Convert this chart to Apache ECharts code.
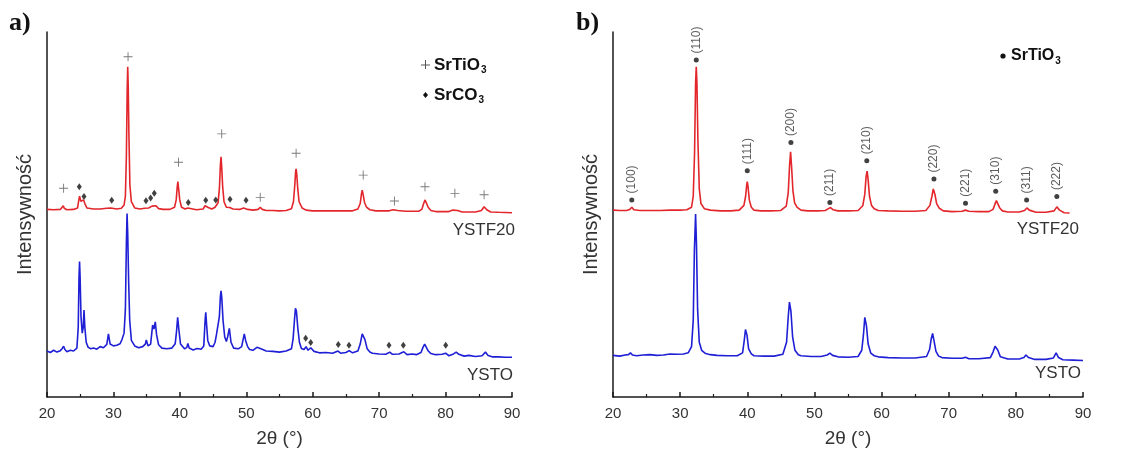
<!DOCTYPE html>
<html>
<head>
<meta charset="utf-8">
<script src="https://cdn.jsdelivr.net/npm/echarts@6/dist/echarts.min.js"></script>
<style>html,body{margin:0;padding:0;background:#fff}#c{width:1125px;height:456px}</style>
</head>
<body>
<div id="c"></div>
<script>
// ---------- DATA (2θ, intensity in arbitrary offset units) ----------
const ystf20_a = [[20,51.4],[21,51.3],[22,51.4],[22.3,51.8],[22.45,52.4],[22.6,51.7],[23,51.3],[24,51.4],[24.6,51.8],[24.75,53.5],[24.9,55],[25.1,53.6],[25.3,53.4],[25.5,54],[25.7,53],[26,51.8],[27,51.5],[28,51.5],[29,51.7],[29.3,52.2],[29.6,51.8],[30.5,51.5],[31.2,51.7],[31.6,52.6],[31.8,55],[31.95,66],[32.07,84],[32.15,90.5],[32.23,85],[32.33,72],[32.48,58],[32.7,53.5],[33.2,51.8],[34,51.5],[34.7,51.7],[35,52],[35.3,51.8],[35.8,52.3],[36.1,52.7],[36.4,52.4],[36.8,51.6],[37.5,51.4],[38.5,51.4],[39.2,52],[39.45,54],[39.6,57.5],[39.7,59],[39.82,57],[39.98,54],[40.25,52],[40.8,51.5],[41.2,51.8],[41.5,51.4],[42.5,51.3],[43.5,51.5],[43.8,52.4],[43.95,52.8],[44.2,52],[44.8,51.5],[45.3,52],[45.75,53.2],[45.95,57],[46.1,63.5],[46.2,65.8],[46.3,63],[46.45,57.5],[46.65,53.5],[47,52],[47.5,51.9],[48,51.5],[49,51.4],[49.6,51.8],[49.85,52],[50.2,51.4],[51,51.2],[51.8,51.4],[52.1,52],[52.4,51.4],[53,51.1],[54,51.1],[55,51],[56,51.1],[56.8,51.6],[57.1,53.5],[57.3,58],[57.43,61.8],[57.5,62.5],[57.6,61],[57.75,57],[57.95,53.5],[58.4,51.8],[59,51.2],[60,51],[62,51],[64,51],[66,51],[66.8,51.5],[67.15,53],[67.35,55.8],[67.45,56.7],[67.58,55.6],[67.8,53.3],[68.1,52],[68.6,51.3],[69.5,51],[71.5,51],[72.1,51.3],[72.4,51.5],[72.8,51.1],[74,50.9],[76,50.9],[76.45,51.5],[76.7,53],[76.9,54],[77.1,53.2],[77.4,51.9],[77.8,51.1],[78.5,50.8],[80.5,50.8],[81.1,51.2],[81.4,51.7],[81.8,51.1],[82.5,50.7],[84.5,50.7],[85.4,51.1],[85.8,52.1],[86.2,51.3],[86.8,50.7],[88,50.6],[90,50.5]];
const ysto_a = [[20,12.6],[20.5,12.2],[21,12.8],[21.5,12.3],[22,12.7],[22.3,13.3],[22.5,13.9],[22.7,13.0],[23,12.4],[23.5,12.8],[24,12.6],[24.5,13.4],[24.7,19],[24.82,33],[24.9,37.1],[24.98,33],[25.12,22],[25.3,17.5],[25.45,19],[25.57,23.8],[25.7,19],[25.9,15],[26.2,13.6],[26.6,13.2],[27,13.4],[27.5,13.1],[28,13.8],[28.5,13.5],[29,14.4],[29.25,17.3],[29.5,14.5],[30,14],[30.5,14.2],[31,14.6],[31.3,15.8],[31.6,17.5],[31.8,24],[31.95,42],[32.05,50.3],[32.15,45],[32.3,31],[32.45,21],[32.7,15.5],[33.2,14],[33.8,13.5],[34.4,13.8],[34.8,14.5],[34.95,15.6],[35.2,14],[35.6,14.5],[35.9,19.7],[36.1,18.6],[36.3,20.6],[36.5,17],[36.8,14.3],[37.3,13.4],[38,13.2],[38.8,13.4],[39.3,14.6],[39.5,18],[39.67,21.8],[39.85,18.5],[40.1,14.5],[40.7,13.2],[41.05,13.6],[41.2,14.7],[41.4,13.4],[42,12.9],[42.6,13.3],[43.2,13.1],[43.6,14],[43.8,21],[43.9,23.2],[44.02,20],[44.2,15.5],[44.5,14],[45,13.8],[45.3,15],[45.5,17],[45.7,16.5],[45.95,22],[46.1,27.5],[46.2,29.1],[46.32,27],[46.5,21],[46.75,16.5],[47.0,15.2],[47.2,16.5],[47.45,18.8],[47.7,15],[48.1,13.4],[48.8,13.2],[49.3,13.8],[49.55,16],[49.7,17.3],[49.9,15.5],[50.2,13.8],[50.5,13],[51,12.8],[51.6,13.6],[52.2,13.2],[53,12.6],[54,12.5],[55,12.3],[56,12.6],[56.8,13.2],[57.05,16],[57.25,21],[57.4,24.3],[57.55,23.5],[57.75,19],[58.0,15],[58.3,13.3],[58.7,13],[59,13.8],[59.3,12.8],[59.7,13.5],[60.2,12.5],[61,12.1],[62,12.2],[63,12],[63.8,12.6],[64.2,12],[65,12.2],[65.5,12.7],[66,12.1],[66.8,12.6],[67.15,14.5],[67.45,17.3],[67.6,17.6],[67.85,15.8],[68.2,13.2],[68.6,12.3],[69,12],[70,11.8],[71,11.7],[71.6,12.3],[72,11.7],[73,11.8],[73.7,12.4],[74.2,11.6],[75,11.8],[75.6,11.6],[76.3,12.2],[76.6,13.6],[76.85,14.5],[77.1,14],[77.4,12.6],[77.8,11.9],[78.5,11.6],[79.5,11.7],[80,12],[80.5,11.3],[81.2,11.8],[81.6,12.3],[82,11.7],[82.8,11.2],[83.5,11.4],[84.5,11.1],[85.5,11.3],[86,12.3],[86.4,11.4],[87,11],[88,11],[89,10.9],[90,10.9]];
const ystf20_b = [[20,51.2],[21,51.1],[22,51.1],[22.5,51.4],[22.8,52],[23.1,51.3],[24,51.1],[25.5,51.1],[27,51.1],[28.5,51.2],[30,51.2],[31,51.3],[31.7,52],[31.95,55],[32.15,67],[32.3,86],[32.4,90.5],[32.5,86],[32.65,70],[32.85,57],[33.1,53],[33.6,51.6],[34.5,51.2],[36,51],[37.5,51],[38.8,51.2],[39.5,52.5],[39.75,55],[39.92,58.2],[40.0,59],[40.1,57.8],[40.3,54],[40.6,52],[41,51.2],[42,51],[43.5,51],[45,51.1],[45.8,52.3],[46.1,56],[46.3,63.5],[46.45,67.2],[46.6,63],[46.8,56.5],[47.05,53.2],[47.4,52],[48,51.2],[49,51],[50.5,51],[51.6,51.1],[52.1,51.6],[52.4,51.9],[52.8,51.3],[53.5,51],[55,51],[56.5,51.1],[57.2,52.4],[57.5,55.5],[57.7,60.5],[57.85,61.9],[58.0,59.5],[58.2,55],[58.5,52.5],[58.9,51.6],[59.5,51.1],[61,51],[63,50.9],[65,50.9],[66.6,51.1],[67.2,52.5],[67.5,55],[67.7,57],[67.8,57.2],[67.95,55.5],[68.2,53],[68.6,51.7],[69.2,51],[70.5,50.8],[72,50.9],[72.5,51.2],[73,50.9],[74.5,50.8],[76,50.8],[76.6,51.4],[76.9,52.9],[77.1,53.8],[77.3,53],[77.6,51.8],[78,51],[78.8,50.7],[80.5,50.7],[81.3,51.1],[81.65,51.8],[82,51.2],[83,50.6],[84.5,50.6],[85.7,51],[86.1,52.1],[86.5,51.2],[87.2,50.5],[88,50.4]];
const ysto_b = [[20,11.4],[21,11.2],[21.8,11.5],[22.3,11.6],[22.6,12.1],[22.9,11.5],[23.5,11.3],[24.5,11.5],[25.5,11.6],[26.5,11.4],[27.5,11.5],[28.5,11.8],[29.5,11.7],[30.5,11.8],[31.2,12.1],[31.7,13.8],[31.95,21],[32.12,40],[32.3,50.1],[32.43,42],[32.6,24],[32.85,15],[33.2,12.8],[33.8,11.9],[34.5,11.6],[35.5,11.4],[37,11.3],[38.5,11.3],[39.3,12.1],[39.55,15.5],[39.73,18.5],[39.8,19],[39.95,17],[40.2,13.2],[40.6,11.8],[41,11.3],[42.5,11.2],[44,11.2],[45.3,11.7],[45.85,15],[46.1,22],[46.28,26],[46.35,26.4],[46.5,23.5],[46.75,16.5],[47.1,12.8],[47.6,11.6],[48,11.3],[49.5,11.1],[51,11.1],[51.9,11.5],[52.3,12],[52.7,11.4],[53.5,11],[55,10.9],[56.5,11.1],[57.05,12.8],[57.3,17],[57.5,21.8],[57.6,22.3],[57.75,19.5],[58.0,14.5],[58.4,12],[58.9,11.3],[59.5,11],[61,10.8],[63,10.7],[65,10.7],[66.7,11.1],[67.15,13],[67.4,16],[67.6,17.4],[67.8,15.5],[68.1,12.5],[68.5,11.2],[69,10.8],[70.5,10.6],[72,10.6],[72.5,10.9],[73,10.5],[74.5,10.5],[76.2,10.8],[76.6,12.3],[76.9,13.9],[77.05,14],[77.3,12.9],[77.7,11],[78.8,10.4],[80.5,10.4],[81.2,10.8],[81.5,11.5],[81.9,10.8],[82.8,10.3],[84.5,10.3],[85.6,10.7],[86,12.1],[86.35,10.8],[87,10.2],[88.5,10.1],[90,10]];

// phase markers, panel a
const srtio3MarkX_a = [22.5,32.2,39.8,46.3,52.1,57.5,67.6,72.3,76.9,81.4,85.8];
const srtio3MarkY_a = [57.2,93.2,64.3,72.1,54.7,66.8,60.8,53.7,57.6,55.8,55.4];
const srco3MarkX_a = [24.86,25.57,29.74,34.9,35.6,36.15,41.27,43.9,45.4,47.55,49.96,58.94,59.7,63.85,65.46,71.48,73.64,80.02];
const srco3MarkY_a = [57.6,54.9,53.9,53.8,54.5,55.8,53.3,53.9,54.0,54.2,53.9,16.1,14.9,14.4,14.2,14.2,14.2,14.2];

// hkl reflections, panel b
const hklLabels = ['(100)','(110)','(111)','(200)','(211)','(210)','(220)','(221)','(310)','(311)','(222)'];
const hklX = [22.8,32.4,40.0,46.5,52.3,57.8,67.8,72.5,77.0,81.6,86.1];
const hklY = [54.0,92.3,62.0,69.7,53.3,64.7,59.7,53.1,56.4,54.0,54.9];

const xTicks = [20,30,40,50,60,70,80,90];
const sampleNames = ['YSTF20','YSTO'];
const phaseNames = ['SrTiO','SrCO'];

// ---------- CHART ----------
const RED = '#e3262b', BLUE = '#1f1fd6', AX = '#1a1a1a', TXT = '#333';
const SANS = '"Liberation Sans", Arial, sans-serif';
const chart = echarts.init(document.getElementById('c'), null, {renderer:'canvas'});

function xAxis(i){
  return {gridIndex:i, type:'value', min:xTicks[0], max:xTicks[xTicks.length-1], interval:10,
    axisLine:{lineStyle:{color:AX,width:1.5}},
    axisTick:{inside:true,length:5,lineStyle:{color:AX,width:1.5}},
    minorTick:{show:true,splitNumber:2,length:3,lineStyle:{color:AX,width:1.2}},
    splitLine:{show:false},
    axisLabel:{fontSize:15,color:TXT,fontFamily:SANS,margin:9},
    name:'2θ (°)', nameLocation:'middle', nameGap:32,
    nameTextStyle:{fontSize:19,color:TXT,fontFamily:SANS}};
}
function yAxis(i){
  return {gridIndex:i, type:'value', min:0, max:100,
    axisLine:{show:true,lineStyle:{color:AX,width:1.5}},
    axisTick:{show:false}, axisLabel:{show:false}, splitLine:{show:false},
    name:'Intensywność', nameLocation:'middle', nameGap:12,
    nameTextStyle:{fontSize:20,color:TXT,fontFamily:SANS}};
}
const crossPath = 'path://M0,4.5H10V5.5H0ZM4.5,0H5.5V10H4.5Z';
const richSub = (fs) => ({m:{fontSize:fs,fontWeight:'bold',fontFamily:SANS,fill:'#111'},
                          s:{fontSize:10,fontWeight:'bold',fontFamily:SANS,fill:'#111',padding:[10,0,0,1]}});

const option = {
  backgroundColor:'#fff',
  animation:false,
  grid:[{left:47,right:613,top:32,bottom:59},{left:613,right:42,top:32,bottom:59}],
  xAxis:[xAxis(0),xAxis(1)],
  yAxis:[yAxis(0),yAxis(1)],
  series:[
    {type:'line',xAxisIndex:0,yAxisIndex:0,data:ystf20_a,showSymbol:false,lineStyle:{color:RED,width:1.6},z:3},
    {type:'line',xAxisIndex:0,yAxisIndex:0,data:ysto_a,showSymbol:false,lineStyle:{color:BLUE,width:1.6},z:3},
    {type:'line',xAxisIndex:1,yAxisIndex:1,data:ystf20_b,showSymbol:false,lineStyle:{color:RED,width:1.6},z:3},
    {type:'line',xAxisIndex:1,yAxisIndex:1,data:ysto_b,showSymbol:false,lineStyle:{color:BLUE,width:1.6},z:3},
    {type:'scatter',xAxisIndex:0,yAxisIndex:0,symbol:crossPath,symbolSize:9,
      itemStyle:{color:'#555'},data:srtio3MarkX_a.map((x,i)=>[x,srtio3MarkY_a[i]]),z:4},
    {type:'scatter',xAxisIndex:0,yAxisIndex:0,symbol:'diamond',symbolSize:[5,7],
      itemStyle:{color:'#111'},data:srco3MarkX_a.map((x,i)=>[x,srco3MarkY_a[i]]),z:4},
    {type:'scatter',xAxisIndex:1,yAxisIndex:1,symbol:'circle',symbolSize:5,
      itemStyle:{color:'#111'},data:hklX.map((x,i)=>[x,hklY[i],hklLabels[i]]),z:4,
      label:{show:true,position:'top',distance:4,rotate:90,align:'left',verticalAlign:'middle',
        formatter:p=>p.data[2],fontSize:12,color:'#333',fontFamily:SANS}}
  ],
  graphic:[
    {type:'text',x:9,y:23,style:{text:'a)',font:'bold 26px "Liberation Serif", serif',fill:'#111',verticalAlign:'middle'}},
    {type:'text',x:576,y:23,style:{text:'b)',font:'bold 26px "Liberation Serif", serif',fill:'#111',verticalAlign:'middle'}},
    // legend a
    {type:'rect',shape:{x:421,y:64.5,width:9,height:1},style:{fill:'#555'}},
    {type:'rect',shape:{x:425,y:60,width:1,height:9},style:{fill:'#555'}},
    {type:'text',x:434,y:65,style:{text:'{m|'+phaseNames[0]+'}{s|3}',verticalAlign:'middle',rich:richSub(17)}},
    {type:'polygon',shape:{points:[[425.5,92],[428,95],[425.5,98],[423,95]]},style:{fill:'#111'}},
    {type:'text',x:434,y:95,style:{text:'{m|'+phaseNames[1]+'}{s|3}',verticalAlign:'middle',rich:richSub(17)}},
    // legend b
    {type:'circle',shape:{cx:1003,cy:56,r:2.6},style:{fill:'#111'}},
    {type:'text',x:1011,y:56,style:{text:'{m|'+phaseNames[0]+'}{s|3}',verticalAlign:'middle',rich:richSub(16)}},
    // sample labels
    {type:'text',x:515,y:230,style:{text:sampleNames[0],font:'17px '+SANS,fill:TXT,align:'right',verticalAlign:'middle'}},
    {type:'text',x:513,y:375,style:{text:sampleNames[1],font:'17px '+SANS,fill:TXT,align:'right',verticalAlign:'middle'}},
    {type:'text',x:1079,y:229,style:{text:sampleNames[0],font:'17px '+SANS,fill:TXT,align:'right',verticalAlign:'middle'}},
    {type:'text',x:1081,y:373,style:{text:sampleNames[1],font:'17px '+SANS,fill:TXT,align:'right',verticalAlign:'middle'}}
  ]
};
chart.setOption(option);
</script>
</body>
</html>
